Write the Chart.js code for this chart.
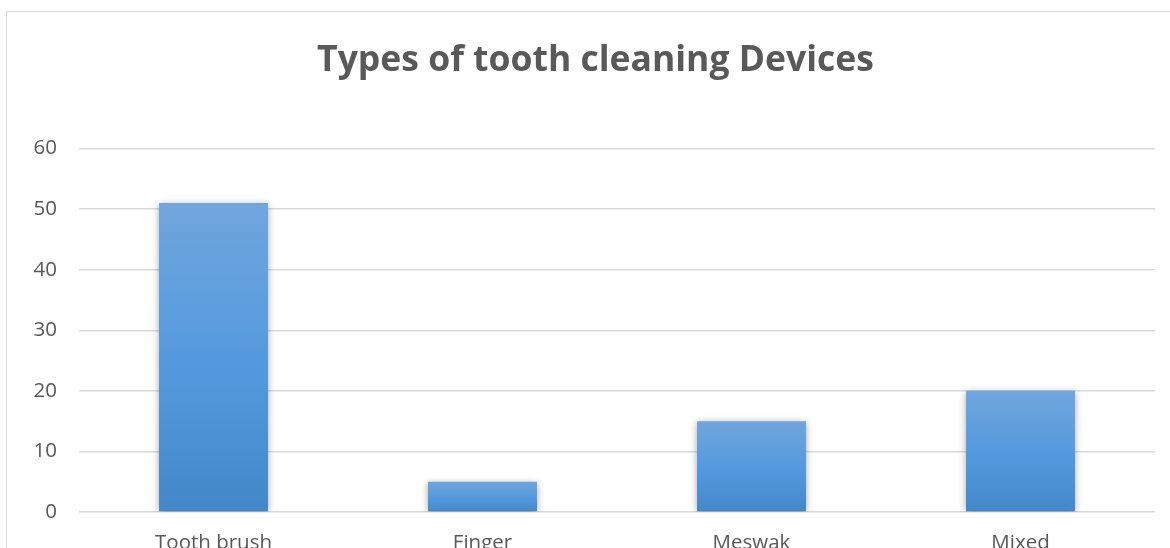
<!DOCTYPE html>
<html>
<head>
<meta charset="utf-8">
<script src="https://cdn.jsdelivr.net/npm/chart.js@4.4.1/dist/chart.umd.min.js"></script>
<style>
html,body{margin:0;padding:0;background:#fff;overflow:hidden;}
#wrap{position:relative;width:1170px;height:548px;}
</style>
</head>
<body>
<div id="wrap"><canvas id="c" width="1170" height="548"></canvas></div>
<script>
const categories = ['Tooth brush', 'Finger', 'Meswak', 'Mixed'];
const values = [51, 5, 15, 20];
const yTicks = [0, 10, 20, 30, 40, 50, 60];
const titleText = 'Types of tooth cleaning Devices';

const FONT = "'Open Sans', 'Noto Sans', sans-serif";

const borderPlugin = {
  id: 'outerBorder',
  beforeDraw(chart) {
    const ctx = chart.ctx;
    ctx.save();
    ctx.strokeStyle = '#d9d9d9';
    ctx.lineWidth = 1;
    ctx.strokeRect(6.5, 11.5, 1400, 1000);
    ctx.restore();
  }
};

const titleShift = {
  id: 'titleShift',
  afterLayout(chart) {
    if (chart.titleBlock) {
      chart.titleBlock.left = 36;
    }
  }
};

const shadowPlugin = {
  id: 'barShadow',
  beforeDatasetsDraw(chart) {
    const ctx = chart.ctx;
    ctx.save();
    ctx.shadowColor = 'rgba(0,0,0,0.35)';
    ctx.shadowBlur = 7;
    ctx.shadowOffsetX = 0;
    ctx.shadowOffsetY = 1;
  },
  afterDatasetsDraw(chart) {
    chart.ctx.restore();
  }
};

function barGradient(context) {
  const chart = context.chart;
  const ys = chart.scales && chart.scales.y;
  if (!chart.chartArea || !ys || context.parsed === undefined) return '#5599dc';
  const top = ys.getPixelForValue(context.parsed.y);
  const base = ys.getPixelForValue(0);
  if (!isFinite(top) || !isFinite(base) || top === base) return '#5599dc';
  const g = chart.ctx.createLinearGradient(0, top, 0, base);
  g.addColorStop(0, '#70a6dc');
  g.addColorStop(0.5, '#559ade');
  g.addColorStop(1, '#4288c9');
  return g;
}

new Chart(document.getElementById('c'), {
  type: 'bar',
  data: {
    labels: categories,
    datasets: [{
      data: values,
      backgroundColor: barGradient,
      borderWidth: 0,
      categoryPercentage: 1,
      barPercentage: 0.405
    }]
  },
  options: {
    responsive: false,
    animation: false,
    devicePixelRatio: 1,
    layout: { padding: { left: 0, right: 15, top: 0, bottom: 0 } },
    plugins: {
      legend: { display: false },
      tooltip: { enabled: false },
      title: {
        display: true,
        text: titleText,
        color: '#595959',
        font: { family: FONT, size: 35.5, weight: 'bold', lineHeight: 1.2 },
        padding: { top: 40, bottom: 66 }
      }
    },
    scales: {
      x: {
        grid: { display: false, drawTicks: false },
        border: { display: false },
        ticks: {
          color: '#595959',
          font: { family: FONT, size: 20.5 },
          padding: 19,
          maxRotation: 0
        },
        afterFit(s) { s.height = 36; }
      },
      y: {
        min: 0,
        max: 60,
        afterBuildTicks(s) { s.ticks = yTicks.map(v => ({ value: v })); },
        grid: { color: '#d9d9d9', lineWidth: 1.5, drawTicks: false },
        border: { display: false },
        ticks: {
          color: '#595959',
          font: { family: FONT, size: 20.5 },
          padding: 22
        },
        afterFit(s) { s.width = 79; }
      }
    }
  },
  plugins: [borderPlugin, titleShift, shadowPlugin]
});
</script>
</body>
</html>
